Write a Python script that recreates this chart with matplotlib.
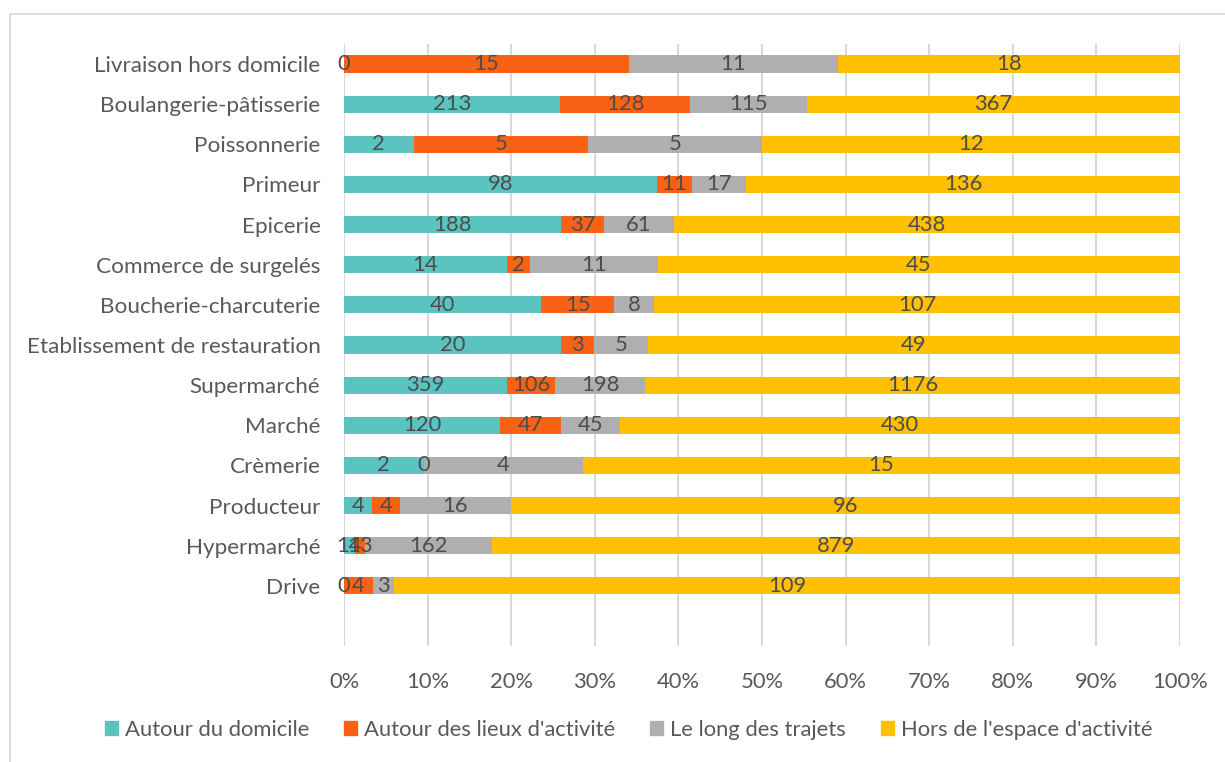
import matplotlib.pyplot as plt
import matplotlib.patches as mpatches
from matplotlib.ticker import PercentFormatter
import numpy as np

plt.rcParams['font.family'] = ['Lato', 'DejaVu Sans']

categories = ["Livraison hors domicile", "Boulangerie-pâtisserie", "Poissonnerie", "Primeur",
              "Epicerie", "Commerce de surgelés", "Boucherie-charcuterie",
              "Etablissement de restauration", "Supermarché", "Marché", "Crèmerie",
              "Producteur", "Hypermarché", "Drive"]
domicile = [0, 213, 2, 98, 188, 14, 40, 20, 359, 120, 2, 4, 14, 0]
activite = [15, 128, 5, 11, 37, 2, 15, 3, 106, 47, 0, 4, 13, 4]
trajets = [11, 115, 5, 17, 61, 11, 8, 5, 198, 45, 4, 16, 162, 3]
hors = [18, 367, 12, 136, 438, 45, 107, 49, 1176, 430, 15, 96, 879, 109]

series = ["Autour du domicile", "Autour des lieux d'activité", "Le long des trajets",
          "Hors de l'espace d'activité"]
colors = ['#5BC4C1', '#F96215', '#AFAFAF', '#FFC000']

vals = np.array([domicile, activite, trajets, hors], dtype=float)
totals = vals.sum(axis=0)
pct = vals / totals * 100

fs = 15.8
fig = plt.figure(figsize=(12.25, 7.62), dpi=100)
fig.patches.append(mpatches.Rectangle((10 / 1225, -0.05), 1.1, 1 - 14 / 762 + 0.05,
                                      transform=fig.transFigure, fill=False,
                                      edgecolor='#D9D9D9', linewidth=1.2))
ax = fig.add_axes([344 / 1225, 1 - 646 / 762, 836 / 1225, 602 / 762])

n = len(categories)
y = np.arange(n)[::-1]
left = np.zeros(n)
for i in range(4):
    ax.barh(y, pct[i], left=left, height=0.43, color=colors[i], zorder=2)
    for j in range(n):
        ax.text(left[j] + pct[i][j] / 2, y[j], f"{int(vals[i][j])}", ha='center', va='center',
                fontsize=fs, color='#4D4D4D', zorder=3)
    left += pct[i]

ax.set_xlim(0, 100)
ax.set_ylim(-1.5, n - 0.5)
ax.set_xticks(np.arange(0, 101, 10))
ax.xaxis.set_major_formatter(PercentFormatter(decimals=0))
ax.set_yticks(y)
ax.set_yticklabels(categories, fontsize=16.2)
ax.tick_params(axis='x', labelsize=fs)
ax.tick_params(axis='both', length=0, labelcolor='#595959')
ax.tick_params(axis='x', pad=19)
ax.tick_params(axis='y', pad=17)
ax.grid(axis='x', color='#D9D9D9', linewidth=1.5, zorder=0)
for s in ax.spines.values():
    s.set_visible(False)

handles = [mpatches.Patch(color=c, label=s) for c, s in zip(colors, series)]
fig.legend(handles=handles, loc='center', bbox_to_anchor=(0.513, 1 - 730 / 762), ncol=4,
           frameon=False, fontsize=fs, labelcolor='#595959', handlelength=0.6,
           handleheight=0.6, handletextpad=0.3, columnspacing=1.6)

fig.savefig('out.png', dpi=100)
